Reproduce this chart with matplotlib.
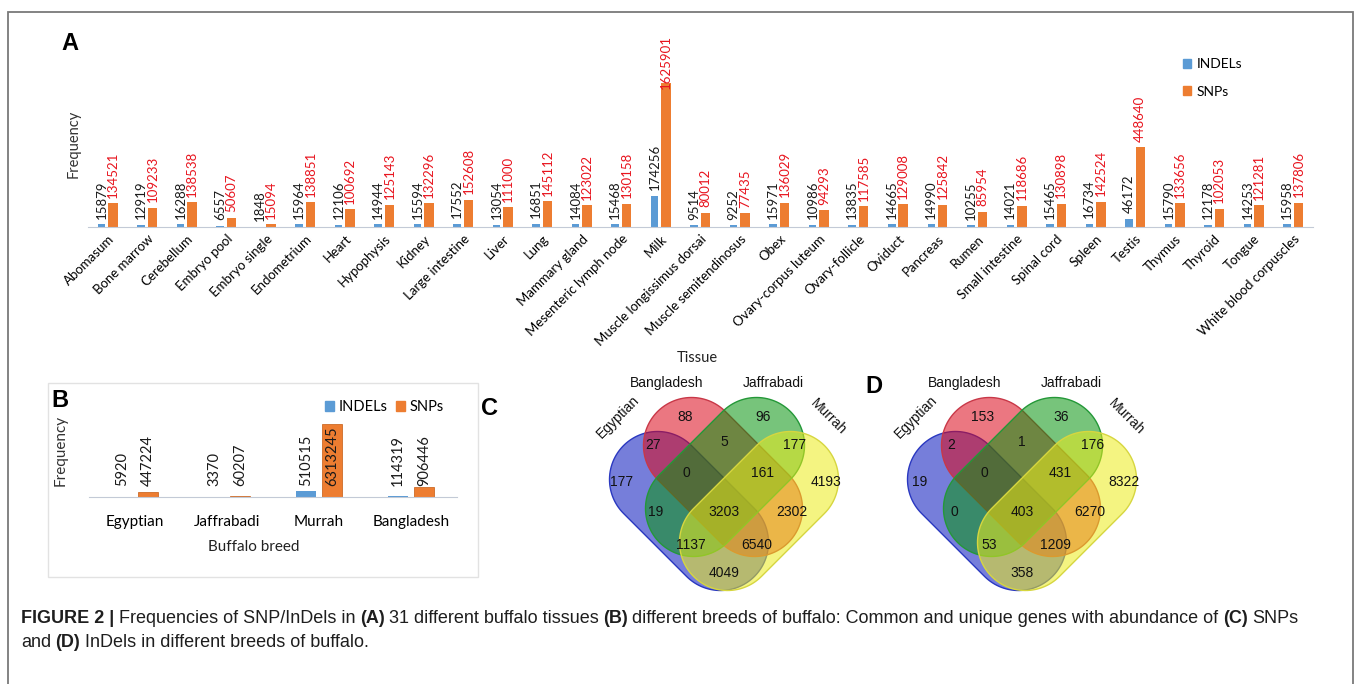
import numpy as np
import matplotlib.pyplot as plt
from matplotlib.patches import Polygon, Rectangle, Patch

plt.rcParams['font.family'] = ['Lato', 'DejaVu Sans']

W, H = 1356, 684

# ---- panel A data
tissues = ['Abomasum', 'Bone marrow', 'Cerebellum', 'Embryo pool', 'Embryo single',
           'Endometrium', 'Heart', 'Hypophysis', 'Kidney', 'Large intestine', 'Liver',
           'Lung', 'Mammary gland', 'Mesenteric lymph node', 'Milk',
           'Muscle longissimus dorsai', 'Muscle semitendinosus', 'Obex',
           'Ovary-corpus luteum', 'Ovary-follicle', 'Oviduct', 'Pancreas', 'Rumen',
           'Small intestine', 'Spinal cord', 'Spleen', 'Testis', 'Thymus', 'Thyroid',
           'Tongue', 'White blood corpuscles']
indels = [15879, 12919, 16288, 6557, 1848, 15964, 12106, 14944, 15594, 17552, 13054,
          16851, 14084, 15468, 174256, 9514, 9252, 15971, 10986, 13835, 14665, 14990,
          10255, 14021, 15465, 16734, 46172, 15790, 12178, 14253, 15958]
snps = [134521, 109233, 138538, 50607, 15094, 138851, 100692, 125143, 132296, 152608,
        111000, 145112, 123022, 130158, 1625901, 80012, 77435, 136029, 94293, 117585,
        129008, 125842, 85954, 118686, 130898, 142524, 448640, 133656, 102053, 121281,
        137806]

# ---- panel B data
breeds = ['Egyptian', 'Jaffrabadi', 'Murrah', 'Bangladesh']
breed_indels = [5920, 3370, 510515, 114319]
breed_snps = [447224, 60207, 6313245, 906446]

# ---- panels C / D data (E=Egyptian, B=Bangladesh, J=Jaffrabadi, M=Murrah)
venn_sets = ['Egyptian', 'Bangladesh', 'Jaffrabadi', 'Murrah']
regions = ['B', 'J', 'EB', 'BJ', 'JM', 'E', 'EBJ', 'BJM', 'M', 'EJ', 'EBJM', 'BM',
           'EJM', 'EBM', 'EM']
snp_counts = [88, 96, 27, 5, 177, 177, 0, 161, 4193, 19, 3203, 2302, 1137, 6540, 4049]
indel_counts = [153, 36, 2, 1, 176, 19, 0, 431, 8322, 0, 403, 6270, 53, 1209, 358]

BLUE, ORANGE = '#5b9bd5', '#ed7d31'


def box(l, t, r, b):
    return [l / W, 1 - b / H, (r - l) / W, (b - t) / H]


fig = plt.figure(figsize=(W / 100, H / 100), dpi=100)

# outer frame and frame of panel B
fig.add_artist(Rectangle((8 / W, -0.02), 1345 / W, 1 - 12 / H + 0.02, transform=fig.transFigure,
                         fill=False, ec='#7a7a7a', lw=1.3))
fig.add_artist(Rectangle((48 / W, 1 - 577 / H), 430 / W, 194 / H, transform=fig.transFigure,
                         fill=False, ec='#e2e2e2', lw=1))

# ================= A
axA = fig.add_axes(box(88, 83, 1313, 227))
x = np.arange(len(tissues))
ymaxA = 810000
axA.bar(x - 0.16, indels, 0.19, color=BLUE)
axA.bar(x + 0.13, snps, 0.24, color=ORANGE)
axA.set_xlim(-0.5, len(tissues) - 0.5)
axA.set_ylim(0, ymaxA)
for xi, v in zip(x, indels):
    axA.annotate(str(v), (xi - 0.16, v), xytext=(0, 4), textcoords='offset points',
                 rotation=90, ha='center', va='bottom', fontsize=9.5, color='#1a1a1a')
for xi, v in zip(x, snps):
    y, dy = (v, 4) if v < ymaxA else (ymaxA, -4)
    axA.annotate(str(v), (xi + 0.13, y), xytext=(0, dy), textcoords='offset points',
                 rotation=90, ha='center', va='bottom', fontsize=9.5, color='#e8141e')
axA.set_xticks(x)
axA.set_xticklabels(tissues, rotation=45, ha='right', rotation_mode='anchor', fontsize=9.5)
axA.tick_params(axis='x', length=0, pad=4)
axA.set_yticks([])
for s in ['left', 'top', 'right']:
    axA.spines[s].set_visible(False)
axA.spines['bottom'].set_color('#c3cad6')
axA.set_ylabel('Frequency', fontsize=10.5, color='#333333')
axA.yaxis.set_label_coords(-0.006, 0.58)
axA.set_xlabel('Tissue', fontsize=10.5, color='#222222')
axA.xaxis.set_label_coords(0.497, -0.86)
fig.legend(handles=[Patch(color=BLUE, label='INDELs'), Patch(color=ORANGE, label='SNPs')],
           loc='upper left', bbox_to_anchor=(1170 / W, 1 - 46 / H), frameon=False,
           fontsize=10, handlelength=0.6, handleheight=0.6, handletextpad=0.4,
           labelspacing=1.1)

# ================= B
axB = fig.add_axes(box(89, 420, 457, 497))
xb = np.arange(len(breeds))
axB.bar(xb - 0.14, breed_indels, 0.22, color=BLUE)
axB.bar(xb + 0.14, breed_snps, 0.22, color=ORANGE, ec='#c55a11', lw=0.5)
axB.set_xlim(-0.5, len(breeds) - 0.5)
axB.set_ylim(0, 6.66e6)
for xi, a, b in zip(xb, breed_indels, breed_snps):
    for off, v in ((-0.14, a), (0.14, b)):
        axB.annotate(str(v), (xi + off, 0), xytext=(0, 8), textcoords='offset points',
                     rotation=90, ha='center', va='bottom', fontsize=10.5, color='#1a1a1a')
axB.set_xticks(xb)
axB.set_xticklabels(breeds, fontsize=11)
axB.tick_params(axis='x', length=0, pad=13)
axB.set_yticks([])
for s in ['left', 'top', 'right']:
    axB.spines[s].set_visible(False)
axB.spines['bottom'].set_color('#c3cad6')
axB.set_ylabel('Frequency', fontsize=11, color='#333333')
axB.yaxis.set_label_coords(-0.058, 0.6)
axB.set_xlabel('Buffalo breed', fontsize=11, color='#222222')
axB.xaxis.set_label_coords(0.448, -0.56)
fig.legend(handles=[Patch(color=BLUE, label='INDELs'), Patch(color=ORANGE, label='SNPs')],
           loc='upper left', bbox_to_anchor=(312 / W, 1 - 387 / H), frameon=False, ncol=2,
           fontsize=10.5, handlelength=0.6, handleheight=0.6, handletextpad=0.3,
           columnspacing=0.6)

# ================= C / D  (4-set Venn of rounded "stadium" shapes, pixel offsets, y down)
R = 48
shapes = [((-66.5, -20.5), (-3.5, 42.5), (0.02, 0.08, 0.74, 0.55), '#2a38c0'),
          ((-32.5, -54.5), (30.5, 8.5), (0.86, 0.03, 0.10, 0.55), '#c83848'),
          ((32.5, -54.5), (-30.5, 8.5), (0.03, 0.58, 0.06, 0.55), '#249838'),
          ((66.5, -20.5), (3.5, 42.5), (0.92, 0.92, 0.10, 0.55), '#d6d640')]
region_xy = {'B': (-39, -83), 'J': (39, -83), 'EB': (-71, -55), 'BJ': (0, -58),
             'JM': (71, -55), 'E': (-102, -18), 'EBJ': (-38, -27), 'BJM': (38, -27),
             'M': (102, -18), 'EJ': (-68, 12), 'EBJM': (0, 12), 'BM': (68, 12),
             'EJM': (-33, 45), 'EBM': (33, 45), 'EM': (0, 73)}
set_xy = [(-106, -83, 45), (-57, -117, 0), (49, -117, 0), (104, -83, -45)]
vfont = ['Liberation Sans', 'DejaVu Sans']


def stadium(c1, c2, r):
    c1, c2 = np.array(c1, float), np.array(c2, float)
    phi = np.arctan2(c2[1] - c1[1], c2[0] - c1[0])
    t2 = np.linspace(phi - np.pi / 2, phi + np.pi / 2, 60)
    t1 = np.linspace(phi + np.pi / 2, phi + 3 * np.pi / 2, 60)
    return np.vstack([c2 + r * np.c_[np.cos(t2), np.sin(t2)],
                      c1 + r * np.c_[np.cos(t1), np.sin(t1)]])


def venn(cx, counts):
    ax = fig.add_axes(box(cx - 140, 360, cx + 140, 610))
    ax.set_xlim(-140, 140)
    ax.set_ylim(110, -140)
    ax.axis('off')
    for c1, c2, fc, ec in shapes:
        ax.add_patch(Polygon(stadium(c1, c2, R), closed=True, fc=fc, ec=ec, lw=1))
    for r, n in zip(regions, counts):
        ax.text(*region_xy[r], str(n), ha='center', va='center', fontsize=10,
                family=vfont, color='#111111')
    for name, (sx, sy, rot) in zip(venn_sets, set_xy):
        ax.text(sx, sy, name, ha='center', va='center', rotation=rot, fontsize=10,
                family=vfont, color='#111111')


venn(724, snp_counts)
venn(1022, indel_counts)

# panel letters
for s, lx, ty in [('A', 61, 32), ('B', 51, 389), ('C', 481, 397), ('D', 865, 375)]:
    fig.text(lx / W, 1 - ty / H, s, fontsize=17, fontweight='bold', va='top',
             family=['Liberation Sans', 'DejaVu Sans'])

# caption
axT = fig.add_axes([0, 0, 1, 1])
axT.axis('off')
axT.set_zorder(-1)
cfont = ['Liberation Sans Narrow', 'Liberation Sans', 'DejaVu Sans']
cap_lines = [
    [('FIGURE 2 |', True), ('Frequencies of SNP/InDels in', False), ('(A)', True),
     ('31 different buffalo tissues', False), ('(B)', True),
     ('different breeds of buffalo: Common and unique genes with abundance of', False),
     ('(C)', True), ('SNPs', False)],
    [('and', False), ('(D)', True), ('InDels in different breeds of buffalo.', False)],
]
for line, yb in zip(cap_lines, [627, 651]):
    prev = None
    for s, bold in line:
        kw = dict(fontsize=13, fontweight='bold' if bold else 'normal', family=cfont,
                  color='#1e1e1e', ha='left', va='bottom')
        if prev is None:
            prev = axT.text(21 / W, 1 - yb / H, s, transform=fig.transFigure, **kw)
        else:
            prev = axT.annotate(s, xy=(1, 0), xycoords=prev, xytext=(3.2, 0),
                                textcoords='offset points', **kw)

fig.savefig('out.png', dpi=100)
